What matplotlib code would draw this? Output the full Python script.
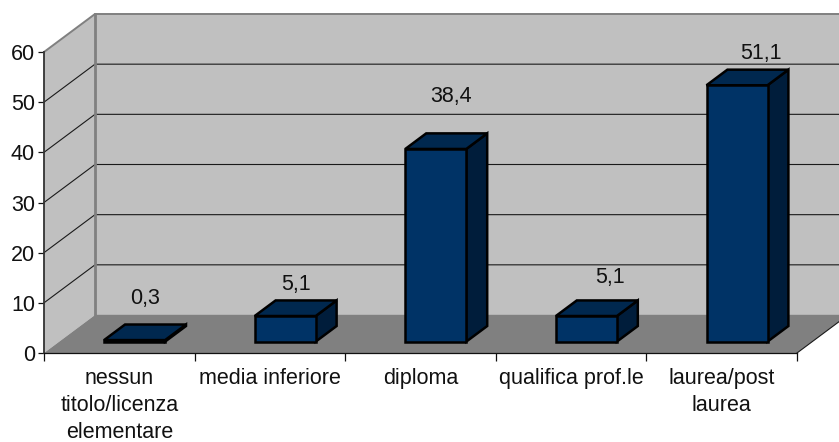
import matplotlib
matplotlib.use("Agg")
import matplotlib.pyplot as plt
from matplotlib.patches import Polygon

plt.rcParams['font.family'] = ['Liberation Sans', 'DejaVu Sans']

categories = ["nessun\ntitolo/licenza\nelementare", "media inferiore", "diploma",
              "qualifica prof.le", "laurea/post\nlaurea"]
values = [0.3, 5.1, 38.4, 5.1, 51.1]
value_labels = ["0,3", "5,1", "38,4", "5,1", "51,1"]
yticks = [0, 10, 20, 30, 40, 50, 60]
# label offsets from the bar's front-top centre, in pixels (style)
label_dx = [10, 10.5, 15, 23.5, 24]
label_dy = [42, 32, 52, 39, 32]

W, H = 839, 442
L, R, B, T = 44, 797, 353, 52
FS = 15.5
fig = plt.figure(figsize=(W / 100, H / 100), dpi=100, facecolor="white")
ax = fig.add_axes([L / W, 1 - B / H, (R - L) / W, (B - T) / H])
n = len(categories)
ymax = 60
ax.set_xlim(0, n)
ax.set_ylim(0, ymax)
ax.patch.set_visible(False)

# 3-D projection: depth d in 0..1 shifts by fixed pixel offset
DEPTH_X = 51 / ((R - L) / n)
DEPTH_Y = 38 / ((B - T) / ymax)


def P(c, v, d=0.0):
    return (c + d * DEPTH_X, v + d * DEPTH_Y)


def poly(pts, fc, ec="none", lw=0, z=1):
    ax.add_patch(Polygon(pts, closed=True, facecolor=fc, edgecolor=ec, linewidth=lw,
                         zorder=z, clip_on=False, joinstyle="miter"))


GREY = "#C0C0C0"
DARK = "#808080"
# walls and floor
poly([P(0, 0, 1), P(n, 0, 1), P(n, ymax, 1), P(0, ymax, 1)], GREY, z=1)
poly([P(0, 0, 0), P(0, 0, 1), P(0, ymax, 1), P(0, ymax, 0)], GREY, z=1)
poly([P(0, 0, 0), P(n, 0, 0), P(n, 0, 1), P(0, 0, 1)], DARK, z=2)

# gridlines
for v in yticks[1:-1]:
    xs, ys = zip(P(0, v, 0), P(0, v, 1), P(n, v, 1))
    ax.plot(xs, ys, color="#1a1a1a", lw=0.8, zorder=2, clip_on=False)

# wall borders
xs, ys = zip(P(0, ymax, 0), P(0, ymax, 1), P(n, ymax, 1))
ax.plot(xs, ys, color=DARK, lw=1.4, zorder=3, clip_on=False)
xs, ys = zip(P(0, 0, 1), P(0, ymax, 1))
ax.plot(xs, ys, color=DARK, lw=2.0, zorder=3, clip_on=False)
xs, ys = zip(P(n, 0, 0), P(n, 0, 1))
ax.plot(xs, ys, color="#1a1a1a", lw=0.8, zorder=3, clip_on=False)
xs, ys = zip(P(0, 0, 1), P(n, 0, 1))
ax.plot(xs, ys, color=DARK, lw=1.0, zorder=3, clip_on=False)

# bars
BW = 61 / ((R - L) / n)
D0, D1 = 0.30, 0.71
FRONT, TOP, SIDE = "#003366", "#00284F", "#001D3B"
EC, ELW = "#000000", 1.8
for i, v in enumerate(values):
    c0, c1 = i + 0.5 - BW / 2, i + 0.5 + BW / 2
    poly([P(c1, 0, D0), P(c1, 0, D1), P(c1, v, D1), P(c1, v, D0)], SIDE, EC, ELW, z=5)
    poly([P(c0, v, D0), P(c1, v, D0), P(c1, v, D1), P(c0, v, D1)], TOP, EC, ELW, z=5)
    poly([P(c0, 0, D0), P(c1, 0, D0), P(c1, v, D0), P(c0, v, D0)], FRONT, EC, ELW, z=6)
    ax.annotate(value_labels[i], xy=P(i + 0.5, v, D0), xytext=(label_dx[i] * 0.72, label_dy[i] * 0.72),
                textcoords="offset points", ha="center", va="center", fontsize=FS, color="#111111",
                annotation_clip=False, zorder=8)

# axes
for s in ["top", "right"]:
    ax.spines[s].set_visible(False)
ax.spines["left"].set_color("#333333")
ax.spines["left"].set_linewidth(1.3)
ax.spines["bottom"].set_color("#111111")
ax.spines["bottom"].set_linewidth(0.9)
ax.spines["left"].set_zorder(7)
ax.spines["bottom"].set_zorder(7)

ax.set_yticks(yticks)
ax.set_yticklabels([str(t) for t in yticks])
ax.tick_params(axis="y", length=4, width=0.9, color="#111111", pad=2.5, labelsize=FS, labelcolor="#111111")
ax.set_xticks(range(n + 1))
ax.set_xticklabels([])
ax.set_xticks([i + 0.5 for i in range(n)], minor=True)
ax.set_xticklabels(categories, minor=True, fontsize=FS, color="#111111", linespacing=1.37, ha="center")
ax.tick_params(axis="x", which="major", length=5.5, width=0.9, color="#111111")
ax.tick_params(axis="x", which="minor", length=0, pad=11)

fig.savefig("out.png", dpi=100)
